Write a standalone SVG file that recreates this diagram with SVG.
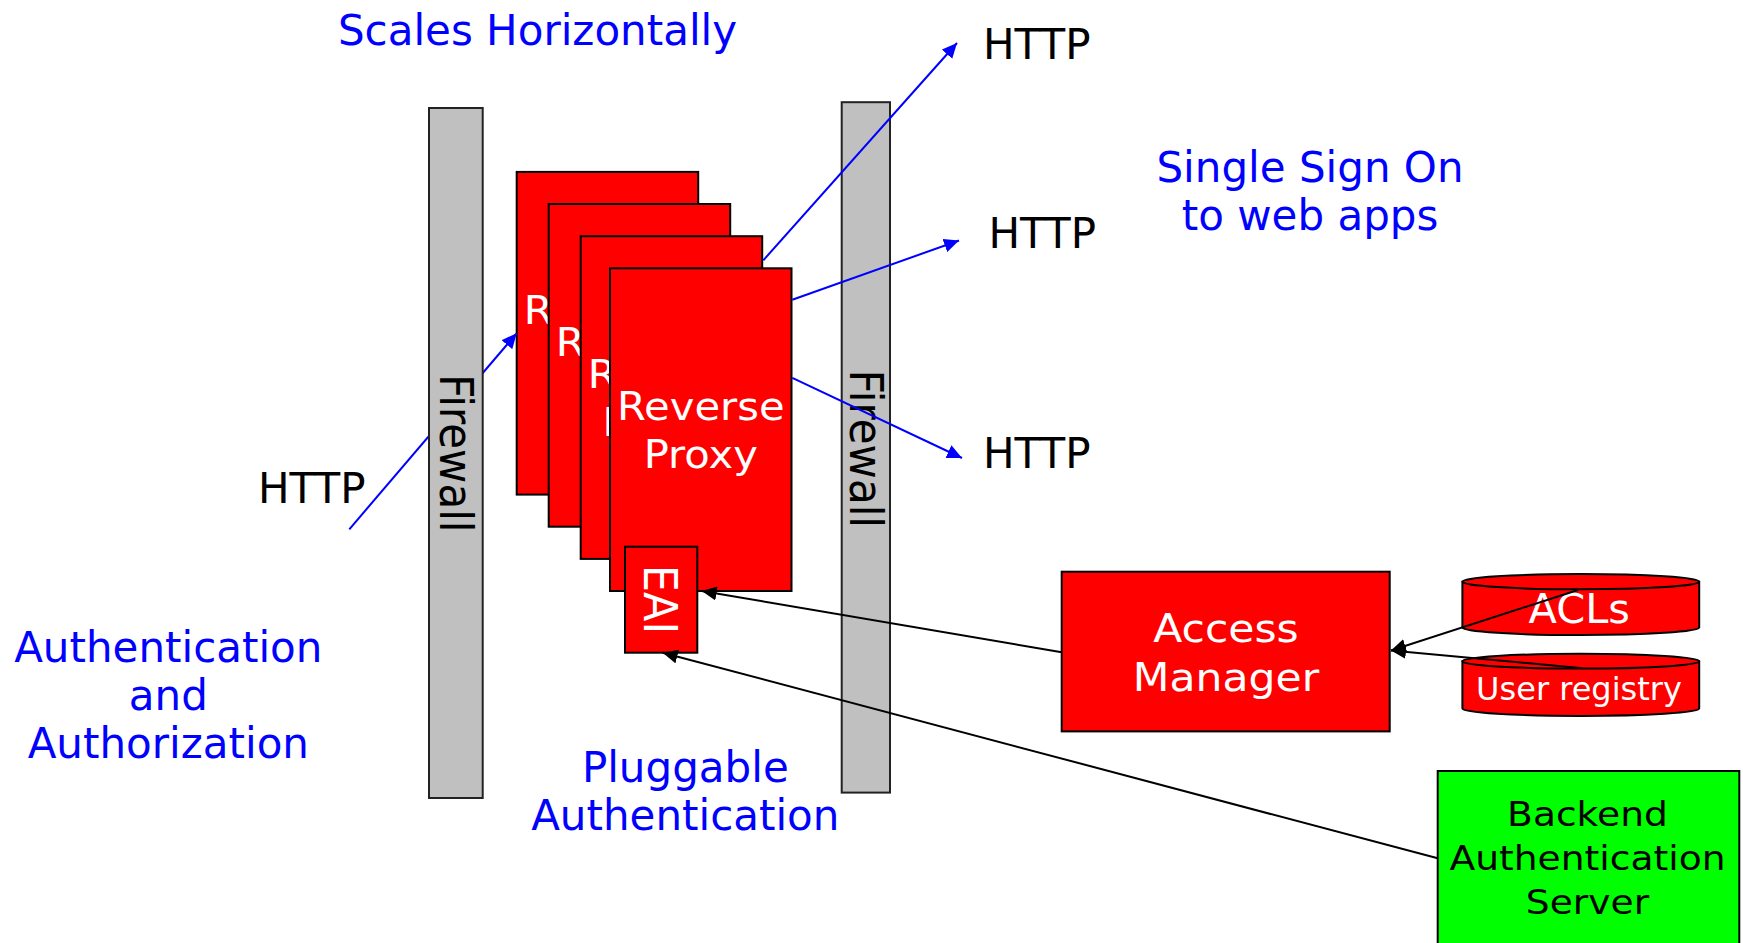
<svg xmlns="http://www.w3.org/2000/svg" width="1743" height="943" viewBox="0 0 1743 943">
  <style>
    text { font-family: "DejaVu Sans", "Liberation Sans", sans-serif; }
    .box { fill: #ff0000; stroke: #000; stroke-width: 2; }
    .fw { fill: #c0c0c0; stroke: #222; stroke-width: 2; }
    .green { fill: #00ff00; stroke: #000; stroke-width: 2; }
    .wt { fill: #fff; text-anchor: middle; }
    .bt { fill: #000; text-anchor: middle; }
    .note { fill: #0000ff; font-size: 42px; text-anchor: middle; }
    .http { fill: #000; font-size: 42px; }
    .blue { stroke: #0000ff; stroke-width: 2; fill: none; marker-end: url(#ab); }
    .black { stroke: #000; stroke-width: 2; fill: none; marker-end: url(#ak); }
  </style>
  <defs>
    <marker id="ab" markerUnits="userSpaceOnUse" markerWidth="16" markerHeight="14" refX="15" refY="7" orient="auto">
      <path d="M0,0 L15,7 L0,14 Z" fill="#0000ff"/>
    </marker>
    <marker id="ak" markerUnits="userSpaceOnUse" markerWidth="16" markerHeight="14" refX="15" refY="7" orient="auto">
      <path d="M0,0 L15,7 L0,14 Z" fill="#000"/>
    </marker>
  </defs>
  <rect width="1743" height="943" fill="#fff"/>

  <!-- outer firewall (right) -->
  <g id="firewall-right">
    <rect class="fw" x="841.7" y="102.2" width="48.3" height="690.4"/>
    <text class="bt" font-size="42" transform="translate(866.7 448.8) scale(1.09 1) rotate(90)" x="0" y="15.3">Firewall</text>
  </g>

  <!-- stacked reverse proxy instances -->
  <g id="proxy-1">
    <rect class="box" x="516.7" y="171.9" width="181.5" height="322.7"/>
    <text class="wt" font-size="39" transform="translate(607.5 323.6) scale(1.07 1)"><tspan x="0">Reverse</tspan><tspan x="0" dy="48.3">Proxy</tspan></text>
  </g>
  <g id="proxy-2">
    <rect class="box" x="548.7" y="204" width="181.5" height="322.7"/>
    <text class="wt" font-size="39" transform="translate(639.5 355.7) scale(1.07 1)"><tspan x="0">Reverse</tspan><tspan x="0" dy="48.3">Proxy</tspan></text>
  </g>
  <g id="proxy-3">
    <rect class="box" x="580.7" y="236.2" width="181.5" height="322.7"/>
    <text class="wt" font-size="39" transform="translate(671.5 387.9) scale(1.07 1)"><tspan x="0">Reverse</tspan><tspan x="-11" dy="48.3">Proxy</tspan></text>
  </g>
  <g id="proxy-4">
    <rect class="box" x="610" y="268.3" width="181.5" height="322.7"/>
    <text class="wt" font-size="39" transform="translate(700.8 420) scale(1.07 1)"><tspan x="0">Reverse</tspan><tspan x="0" dy="48.3">Proxy</tspan></text>
  </g>

  <!-- external authentication interface -->
  <g id="eai">
    <rect class="box" x="625" y="546.7" width="72.3" height="106"/>
    <text class="wt" font-size="43" transform="translate(661.2 599.5) scale(1.09 1) rotate(90)" x="0" y="15.7">EAI</text>
  </g>

  <g id="access-manager">
    <rect class="box" x="1061.7" y="571.7" width="328" height="159.7"/>
    <text class="wt" font-size="39" transform="translate(1226 641.7) scale(1.09 1)"><tspan x="0">Access</tspan><tspan x="0" dy="49.3">Manager</tspan></text>
  </g>

  <g id="acls">
    <path class="box" d="M1462.4,581.7 L1462.4,627.5 A118.4,7.6 0 0 0 1699.2,627.5 L1699.2,581.7 Z"/>
    <ellipse class="box" cx="1580.8" cy="581.7" rx="118.4" ry="7.6"/>
    <text class="wt" font-size="41.5" x="1579.3" y="623.3">ACLs</text>
  </g>

  <g id="user-registry">
    <path class="box" d="M1462.4,661.2 L1462.4,708.5 A118.4,7.4 0 0 0 1699.2,708.5 L1699.2,661.2 Z"/>
    <ellipse class="box" cx="1580.8" cy="661.2" rx="118.4" ry="7.4"/>
    <text class="wt" font-size="32" x="1579" y="700">User registry</text>
  </g>

  <g id="backend-auth-server">
    <rect class="green" x="1437.7" y="771" width="301.6" height="190"/>
    <text class="bt" font-size="33" transform="translate(1587.5 826) scale(1.14 1)"><tspan x="0">Backend</tspan><tspan x="0" dy="44">Authentication</tspan><tspan x="0" dy="44">Server</tspan></text>
  </g>

  <!-- connectors -->
  <g id="connectors">
    <line class="blue" x1="349.3" y1="529.3" x2="516.7" y2="333.3"/>
    <line class="blue" x1="763.3" y1="260.3" x2="957" y2="43"/>
    <line class="blue" x1="792.3" y1="299.7" x2="959" y2="240.5"/>
    <line class="blue" x1="792.3" y1="377.8" x2="962" y2="458"/>
    <line class="black" x1="1061.7" y1="652.3" x2="701.7" y2="591"/>
    <line class="black" x1="1437.7" y1="858.3" x2="662.7" y2="652.7"/>
    <line class="black" x1="1578" y1="590" x2="1391" y2="650.5"/>
    <line class="black" x1="1582.6" y1="668.3" x2="1391" y2="650.5"/>
  </g>

  <!-- inner firewall (left), in front of the inbound request line -->
  <g id="firewall-left">
    <rect class="fw" x="429" y="108" width="53.7" height="690"/>
    <text class="bt" font-size="42" transform="translate(456.7 453.3) scale(1.09 1) rotate(90)" x="0" y="15.3">Firewall</text>
  </g>

  <!-- protocol labels -->
  <g id="http-labels">
    <text class="http" x="258" y="503.3">HTTP</text>
    <text class="http" x="983" y="59.3">HTTP</text>
    <text class="http" x="988.5" y="248.3">HTTP</text>
    <text class="http" x="983" y="468.3">HTTP</text>
  </g>

  <!-- feature notes -->
  <g id="notes">
    <text class="note" x="537.5" y="44.5">Scales Horizontally</text>
    <text class="note"><tspan x="1310" y="181.7">Single Sign On</tspan><tspan x="1310" y="229.7">to web apps</tspan></text>
    <text class="note"><tspan x="168.3" y="661.7">Authentication</tspan><tspan x="168.3" y="710">and</tspan><tspan x="168.3" y="758.3">Authorization</tspan></text>
    <text class="note"><tspan x="685.3" y="781.7">Pluggable</tspan><tspan x="685.3" y="830">Authentication</tspan></text>
  </g>
</svg>
